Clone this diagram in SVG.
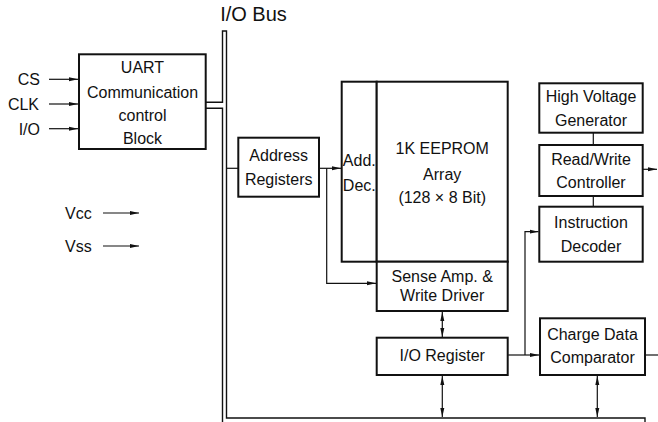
<svg xmlns="http://www.w3.org/2000/svg" width="658" height="422" viewBox="0 0 658 422">
<style>
text{font-family:"Liberation Sans",Arial,sans-serif;font-size:16px;fill:#111;text-anchor:middle}
.box{fill:#fff;stroke:#111;stroke-width:2}
.w{stroke:#111;stroke-width:1.2;fill:none}
.bus{stroke:#111;stroke-width:1.4;fill:none}
.a{marker-end:url(#ah)}
.b{marker-start:url(#ah);marker-end:url(#ah)}
</style>
<defs>
<marker id="ah" markerUnits="userSpaceOnUse" markerWidth="10" markerHeight="6" refX="9" refY="2.5" orient="auto-start-reverse">
<path d="M0,0.5 L9,2.5 L0,4.5 z" fill="#111"/>
</marker>
</defs>
<text x="253.5" y="21" style="font-size:20px">I/O Bus</text>
<g id="connectors">
<path class="bus" d="M222.5,422 V108.3 H206 M206,102.3 H222.5 V31 H226.5 V418 H645 V422"/>
<path class="w a" d="M49,79.3 H78"/>
<path class="w a" d="M49,104 H78"/>
<path class="w a" d="M49,128.7 H78"/>
<path class="w a" d="M103,213 H139"/>
<path class="w a" d="M103,246 H139"/>
<path class="w" d="M226.5,168.3 H238"/>
<path class="w a" d="M319,168.3 H341"/>
<path class="w a" d="M326.7,168.3 V283.3 H376"/>
<path class="w b" d="M442.3,312 V337"/>
<path class="w b" d="M442.3,376 V417"/>
<path class="w a" d="M508,355 H539"/>
<path class="w a" d="M525,355 V231.7 H538.5"/>
<path class="w" d="M645,355 H658"/>
<path class="w b" d="M597.3,376 V417"/>
<path class="w" d="M593.3,132.7 V145"/>
<path class="w" d="M593.3,196 V206.7"/>
<path class="w a" d="M643,169.3 H657"/>
</g>
<g id="labels">
<text x="40" y="85" style="text-anchor:end">CS</text>
<text x="39" y="109.7" style="text-anchor:end">CLK</text>
<text x="40" y="134.5" style="text-anchor:end">I/O</text>
<text x="65" y="218.5" style="text-anchor:start">Vcc</text>
<text x="65" y="251.5" style="text-anchor:start">Vss</text>
</g>
<g id="uart">
<rect class="box" x="79" y="54.3" width="126.7" height="94.7"/>
<text x="142.5" y="72.5">UART</text>
<text x="142.5" y="97.5">Communication</text>
<text x="142.5" y="121">control</text>
<text x="142.5" y="144">Block</text>
</g>
<g id="address-registers">
<rect class="box" x="238.3" y="137.7" width="80.7" height="59"/>
<text x="278.7" y="161">Address</text>
<text x="278.7" y="184.5">Registers</text>
</g>
<g id="add-dec">
<rect class="box" x="341.7" y="81.7" width="35" height="180"/>
<text x="359.3" y="165.5">Add.</text>
<text x="359.3" y="190.5">Dec.</text>
</g>
<g id="eeprom-array">
<rect class="box" x="376.7" y="81.7" width="131" height="180"/>
<text x="442.2" y="153.5">1K EEPROM</text>
<text x="442.2" y="179.5">Array</text>
<text x="442.2" y="202.5">(128 × 8 Bit)</text>
</g>
<g id="sense-amp">
<rect class="box" x="376.7" y="261.7" width="131" height="49.3"/>
<text x="442.2" y="281.5">Sense Amp. &amp;</text>
<text x="442.2" y="301">Write Driver</text>
</g>
<g id="io-register">
<rect class="box" x="376.7" y="337.7" width="131" height="37.3"/>
<text x="442.2" y="360.5">I/O Register</text>
</g>
<g id="high-voltage-generator">
<rect class="box" x="539.3" y="83.3" width="103.4" height="49.4"/>
<text x="591" y="101.5">High Voltage</text>
<text x="591" y="125.5">Generator</text>
</g>
<g id="read-write-controller">
<rect class="box" x="539.3" y="145" width="103.4" height="51"/>
<text x="591" y="164.5">Read/Write</text>
<text x="591" y="188">Controller</text>
</g>
<g id="instruction-decoder">
<rect class="box" x="539.3" y="206.7" width="103.4" height="55"/>
<text x="591" y="228">Instruction</text>
<text x="591" y="251.5">Decoder</text>
</g>
<g id="charge-data-comparator">
<rect class="box" x="540" y="318.3" width="105" height="56.7"/>
<text x="592.5" y="340">Charge Data</text>
<text x="592.5" y="363">Comparator</text>
</g>
</svg>
